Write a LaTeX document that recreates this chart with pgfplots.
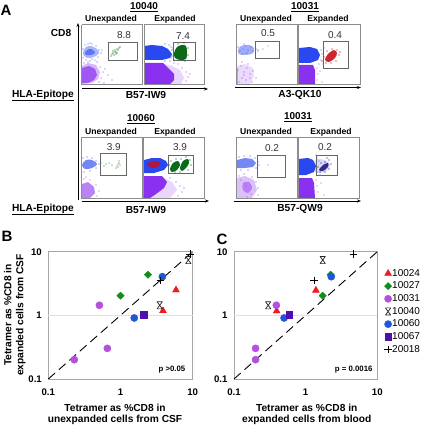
\documentclass[border=0pt]{standalone}
\usepackage{pgfplots}
\usepackage{fontspec}
\setmainfont{Liberation Sans}
\pgfplotsset{compat=1.18}
\usetikzlibrary{arrows.meta}
\definecolor{fblue}{HTML}{2A48F0}
\definecolor{fpurple}{HTML}{8A30F0}
\definecolor{fgreen}{HTML}{0A6A18}
\definecolor{fred}{HTML}{C8101C}
\definecolor{fnavy}{HTML}{302080}
\definecolor{mred}{HTML}{EE1C1C}
\definecolor{mgreen}{HTML}{0E8F1A}
\definecolor{mpurple}{HTML}{B44FE0}
\definecolor{mblue}{HTML}{1F57D6}
\definecolor{msq}{HTML}{4F0FB0}
\pgfdeclareplotmark{xcap}{%
 \pgfpathmoveto{\pgfqpoint{-0.75\pgfplotmarksize}{\pgfplotmarksize}}\pgfpathlineto{\pgfqpoint{0.75\pgfplotmarksize}{\pgfplotmarksize}}
 \pgfpathmoveto{\pgfqpoint{-0.75\pgfplotmarksize}{-\pgfplotmarksize}}\pgfpathlineto{\pgfqpoint{0.75\pgfplotmarksize}{-\pgfplotmarksize}}
 \pgfpathmoveto{\pgfqpoint{-0.75\pgfplotmarksize}{\pgfplotmarksize}}\pgfpathlineto{\pgfqpoint{0.75\pgfplotmarksize}{-\pgfplotmarksize}}
 \pgfpathmoveto{\pgfqpoint{0.75\pgfplotmarksize}{\pgfplotmarksize}}\pgfpathlineto{\pgfqpoint{-0.75\pgfplotmarksize}{-\pgfplotmarksize}}
 \pgfusepathqstroke}
\pgfplotsset{
 blob/.style n args={2}{draw=none,fill=#1,fill opacity=#2,forget plot,smooth cycle,no markers},
 block/.style n args={2}{draw=none,fill=#1,fill opacity=#2,forget plot,no markers},
 dots/.style={only marks,mark=*,mark size=0.45pt,color=#1,forget plot,mark options={draw=none,fill=#1,fill opacity=0.75}},
 frame/.style={draw=black!45,line width=0.9pt,forget plot,no markers},
 gate/.style={draw=black!60,line width=0.7pt,forget plot,no markers},
}
\newcommand{\hd}[3]{\node[font=\fontsize{10.2}{11}\selectfont\bfseries] at (axis cs:#1,#2) {#3};}
\newcommand{\ul}[3]{\node[font=\fontsize{10}{11}\selectfont\bfseries] at (axis cs:#1,#2) {\underline{#3}};}
\newcommand{\sm}[3]{\node[font=\fontsize{8.6}{10}\selectfont\bfseries] at (axis cs:#1,#2) {#3};}
\newcommand{\nm}[3]{\node[font=\fontsize{10}{11}\selectfont,text=black!80] at (axis cs:#1,#2) {#3};}
\begin{document}
\begin{tikzpicture}[x=1pt,y=1pt]
\useasboundingbox (0,0) rectangle (420pt,428pt);
% ---------- Panel A, in picture pixel coordinates
\begin{axis}[at={(0pt,0pt)},anchor=south west,scale only axis,width=420pt,height=428pt,
 xmin=0,xmax=420,ymin=0,ymax=428,y dir=reverse,hide axis,clip=false]
% 10040 unexpanded
\addplot[blob={fblue}{0.4}] coordinates {(83,52)(86,47)(91,46)(97,49)(99,53)(94,57)(88,58)(84,56)};
\addplot[blob={fblue}{0.6}] coordinates {(85,52)(89,49)(93,50)(95,53)(91,55)(86,55)};
\addplot[block={fpurple}{0.35}] coordinates {(82,66)(88,63)(96,65)(100,72)(98,79)(92,83)(82,84)};
\addplot[block={fpurple}{0.7}] coordinates {(82,68)(89,66)(95,69)(97,75)(94,80)(88,83)(82,83)};
\addplot[dots=fblue!70] coordinates {(83,49)(85,45)(88,44)(92,44)(96,46)(99,50)(101,53)(98,57)(92,59)(86,60)(83,58)(102,50)(95,60)(90,43)};
\addplot[dots=fpurple!80] coordinates {(84,63)(90,61)(97,62)(100,67)(103,72)(101,78)(99,82)(105,69)(108,75)(112,80)(104,83)(88,62)};
\addplot[dots=fgreen] coordinates {(111,56)(112,54)(113,53)(114,55)(115,52)(115,50)(116,52)(117,49)(118,50)(117,53)(119,48)(113,51)(120,47)(116,54)};
% 10040 expanded
\addplot[block={fblue}{1}] coordinates {(144,46)(152,45)(162,46)(168,49)(172,54)(170,58)(162,60)(144,60)};
\addplot[block={fpurple}{0.2}] coordinates {(160,63)(172,66)(180,70)(184,78)(181,84)(160,84)};
\addplot[block={fpurple}{1}] coordinates {(144,63)(163,63)(168,68)(174,74)(174,80)(170,84)(144,84)};
\addplot[blob={fgreen}{1}] coordinates {(174,53)(177,47)(182,45)(186,46)(187,52)(186,59)(180,60)(175,58)};
\addplot[dots=fgreen] coordinates {(172,50)(172,56)(174,60)(178,44)(184,43)(188,48)(188,55)(185,61)};
\addplot[dots=fblue!80] coordinates {(171,47)(173,48)(171,58)(170,61)(165,61)(169,45)(165,44)};
\addplot[dots=fpurple!80] coordinates {(182,68)(186,72)(188,77)(178,64)(174,63)(186,81)(190,74)};
% 10031 A3 unexpanded
\addplot[blob={fblue}{0.45}] coordinates {(238,50)(241,46)(249,45)(254,48)(253,53)(246,55)(239,54)};
\addplot[block={fpurple}{0.18}] coordinates {(237,66)(245,64)(253,68)(254,76)(250,84)(237,84)};
\addplot[dots=fblue!80] coordinates {(238,47)(240,51)(243,49)(245,46)(248,50)(251,47)(253,51)(256,49)(247,53)(242,54)(258,50)(244,44)};
\addplot[dots=fpurple!80] coordinates {(238,70)(241,66)(244,72)(247,68)(250,74)(253,71)(242,78)(246,80)(250,78)(239,82)(244,75)(256,78)(248,64)(252,82)(242,62)};
\addplot[dots=fred!60] coordinates {(258,51)(263,49)(268,46)};
\addplot[draw=fpurple!50,line width=0.8pt,forget plot] coordinates {(237,68)(237,84)(254,84)};
% 10031 A3 expanded
\addplot[block={fblue}{1}] coordinates {(299,48)(310,47)(317,49)(320,55)(318,60)(310,63)(299,63)};
\addplot[block={fpurple}{1}] coordinates {(299,65)(313,65)(315,70)(315,84)(299,84)};
\addplot[blob={fred}{0.9}] coordinates {(325,60)(328,54)(334,50)(337,53)(335,58)(329,62)};
\addplot[dots=fred] coordinates {(324,57)(327,51)(332,49)(337,50)(339,55)(336,61)(331,63)(326,63)(340,52)(322,61)};
\addplot[dots=fblue!70] coordinates {(321,50)(322,54)(324,48)(321,60)(319,64)(323,64)};
\addplot[dots=fpurple!70] coordinates {(317,68)(318,74)(317,80)(320,71)(322,82)};
% 10060 unexpanded
\addplot[blob={fblue}{0.65}] coordinates {(82,165)(86,160)(92,160)(97,164)(92,168)(85,169)};
\addplot[block={fpurple}{0.6}] coordinates {(82,184)(88,182)(94,187)(95,193)(90,198)(82,198)};
\addplot[dots=fblue!80] coordinates {(83,158)(87,157)(92,158)(96,161)(99,164)(96,168)(90,171)(84,172)(101,163)};
\addplot[dots=fpurple!70] coordinates {(84,179)(90,180)(96,185)(99,191)(97,196)(86,177)};
\addplot[dots=fgreen!70] coordinates {(117,166)(118,164)(119,163)(118,167)(120,165)(116,168)(119,161)(106,164)(109,163)(112,165)(104,166)};
% 10060 expanded
\addplot[block={fblue}{1}] coordinates {(144,160)(152,158)(160,158)(166,161)(168,165)(164,170)(154,173)(144,173)};
\addplot[blob={fred}{0.85}] coordinates {(147,164)(153,161)(160,162)(159,166)(152,168)};
\addplot[block={fpurple}{0.2}] coordinates {(160,176)(172,182)(177,190)(170,198)(150,198)};
\addplot[block={fpurple}{1}] coordinates {(144,176)(162,176)(167,182)(164,188)(156,194)(150,198)(144,198)};
\addplot[blob={fgreen}{1}] coordinates {(170,169)(173,163)(178,161)(180,165)(177,170)(172,172)};
\addplot[blob={fgreen}{1}] coordinates {(180,168)(183,161)(188,159)(189,163)(186,168)(182,171)};
\addplot[dots=fgreen] coordinates {(169,165)(171,161)(176,159)(181,159)(186,157)(190,160)(191,165)(188,170)(180,172)(175,172)};
\addplot[dots=fpurple!80] coordinates {(176,182)(180,186)(182,192)(178,196)(170,178)(184,188)};
% 10031 QW9 unexpanded
\addplot[block={fblue}{0.65}] coordinates {(237,160)(245,158)(252,159)(256,163)(253,167)(245,168)(237,168)};
\addplot[block={fpurple}{0.3}] coordinates {(237,178)(245,176)(254,180)(257,190)(252,198)(237,198)};
\addplot[blob={fpurple}{0.45}] coordinates {(243,183)(249,182)(252,188)(248,193)(243,190)};
\addplot[dots=fblue!80] coordinates {(239,157)(244,156)(250,156)(255,158)(258,162)(256,168)(248,170)(241,170)(259,165)};
\addplot[dots=fpurple!80] coordinates {(239,176)(244,174)(252,177)(256,182)(258,188)(258,195)(241,180)(246,186)(251,194)(247,197)};
\addplot[dots=fblue!60] coordinates {(268,165)};
% 10031 QW9 expanded
\addplot[blob={fblue}{0.2}] coordinates {(315,160)(325,160)(330,165)(325,172)(315,172)};
\addplot[block={fblue}{1}] coordinates {(298,159)(308,158)(313,160)(316,166)(314,172)(306,175)(298,175)};
\addplot[block={fpurple}{1}] coordinates {(298,178)(312,178)(314,183)(315,198)(298,198)};
\addplot[blob={fnavy}{0.95}] coordinates {(319,170)(323,165)(328,163)(328,167)(323,171)};
\addplot[dots=fnavy] coordinates {(318,167)(321,163)(325,162)(329,160)(331,164)(329,169)(325,172)(320,172)(327,158)};
\addplot[dots=fblue!70] coordinates {(317,158)(319,161)(317,172)(320,175)(316,155)};
\addplot[dots=fpurple!70] coordinates {(316,180)(317,186)(318,192)(321,183)(324,195)};
% frames and gates
\addplot[frame] coordinates {(81.7,24.7)(142.7,24.7)(142.7,84)(81.7,84)(81.7,24.7)};
\addplot[frame] coordinates {(144,24.7)(204,24.7)(204,84)(144,84)(144,24.7)};
\addplot[gate] coordinates {(108,42.7)(137,42.7)(137,60.7)(108,60.7)(108,42.7)};
\addplot[gate] coordinates {(173,42.7)(195,42.7)(195,60.7)(173,60.7)(173,42.7)};
\addplot[frame] coordinates {(236.7,24)(297,24)(297,84)(236.7,84)(236.7,24)};
\addplot[frame] coordinates {(298.3,24)(360,24)(360,84)(298.3,84)(298.3,24)};
\addplot[gate] coordinates {(255.7,41.3)(279.3,41.3)(279.3,58.7)(255.7,58.7)(255.7,41.3)};
\addplot[gate] coordinates {(323.3,41.7)(348.3,41.7)(348.3,68.7)(323.3,68.7)(323.3,41.7)};
\addplot[frame] coordinates {(81.7,137.3)(142.7,137.3)(142.7,198.7)(81.7,198.7)(81.7,137.3)};
\addplot[frame] coordinates {(143.5,137.3)(204,137.3)(204,198.7)(143.5,198.7)(143.5,137.3)};
\addplot[gate] coordinates {(100.7,153.3)(126.3,153.3)(126.3,175)(100.7,175)(100.7,153.3)};
\addplot[gate] coordinates {(168.3,155.7)(193.7,155.7)(193.7,173)(168.3,173)(168.3,155.7)};
\addplot[frame] coordinates {(236.7,137.3)(297,137.3)(297,198.3)(236.7,198.3)(236.7,137.3)};
\addplot[frame] coordinates {(298,137.3)(359,137.3)(359,198.3)(298,198.3)(298,137.3)};
\addplot[gate] coordinates {(257.3,155)(285.3,155)(285.3,177.7)(257.3,177.7)(257.3,155)};
\addplot[gate] coordinates {(316.3,155)(337.7,155)(337.7,175.3)(316.3,175.3)(316.3,155)};
% arrows
\addplot[black,line width=1pt,-{Stealth[length=4pt]},forget plot] coordinates {(78,200)(78,23)};
\addplot[black,line width=1pt,-{Stealth[length=4pt]},forget plot] coordinates {(82,89)(208,89)};
\addplot[black,line width=1pt,-{Stealth[length=4pt]},forget plot] coordinates {(82,201)(209,201)};
\addplot[black,line width=1pt,-{Stealth[length=4pt]},forget plot] coordinates {(235,87.5)(361,87.5)};
\addplot[black,line width=1pt,-{Stealth[length=4pt]},forget plot] coordinates {(234,201)(361,201)};
% texts
\node[font=\fontsize{15}{16}\selectfont\bfseries] at (axis cs:6,10.5) {A};
\node[font=\fontsize{15}{16}\selectfont\bfseries] at (axis cs:7,236) {B};
\node[font=\fontsize{15}{16}\selectfont\bfseries] at (axis cs:222,239) {C};
\ul{144}{7}{10040}\ul{305}{7}{10031}\ul{141}{119}{10060}\ul{298}{117}{10031}
\sm{111}{19}{Unexpanded}\sm{175}{19}{Expanded}\sm{266}{19}{Unexpanded}\sm{328}{19}{Expanded}
\sm{111}{132}{Unexpanded}\sm{175}{132}{Expanded}\sm{266}{132}{Unexpanded}\sm{331}{132}{Expanded}
\hd{61}{33}{CD8}
\hd{43}{95.5}{\underline{HLA-Epitope}}\hd{43}{209.5}{\underline{HLA-Epitope}}
\hd{146}{95}{B57-IW9}\hd{146}{210}{B57-IW9}\hd{300}{95}{A3-QK10}\hd{300}{209}{B57-QW9}
\nm{124}{35}{8.8}\nm{183}{36}{7.4}\nm{268}{33}{0.5}\nm{335}{35}{0.4}
\nm{113.7}{147.5}{3.9}\nm{180}{147.5}{3.9}\nm{272}{148}{0.2}\nm{325}{147.5}{0.2}
% axis titles of panels B and C
\hd{115}{407.7}{Tetramer as \%CD8 in}\hd{115}{420}{unexpanded cells from CSF}
\hd{306.7}{407.7}{Tetramer as \%CD8 in}\hd{306.7}{420}{expanded cells from blood}
\node[rotate=90,font=\fontsize{10.2}{11}\selectfont\bfseries] at (axis cs:7.7,315) {Tetramer as \%CD8 in};
\node[rotate=90,font=\fontsize{10.2}{11}\selectfont\bfseries] at (axis cs:20.7,315) {expanded cells from CSF};
\node[font=\fontsize{7.8}{9}\selectfont\bfseries] at (axis cs:172,369.7) {p >0.05};
\node[font=\fontsize{7.8}{9}\selectfont\bfseries] at (axis cs:353.7,369.7) {p = 0.0016};
\end{axis}
% ---------- Panel B
\begin{axis}[at={(48.3pt,49pt)},anchor=south west,scale only axis,width=144.4pt,height=127.3pt,
 xmode=log,ymode=log,xmin=0.1,xmax=10,ymin=0.1,ymax=10,clip=false,
 axis line style={draw=black!35,line width=0.9pt},
 xtick={0.1,1,10},xticklabels={0.1,1,10},ytick={0.1,1,10},yticklabels={0.1,1,10},
 minor tick length=0pt,major tick length=0pt,
 tick label style={font=\fontsize{9.6}{10}\selectfont\bfseries},
 xticklabel style={yshift=-6pt},yticklabel style={xshift=-3pt}]
\addplot[black!12,line width=0.6pt,forget plot] coordinates {(0.1,1)(10,1)};
\addplot[black,line width=0.9pt,dash pattern=on 9pt off 5pt,forget plot] coordinates {(0.1,0.1)(10,10)};
\addplot[only marks,mark=triangle*,mark size=4pt,color=mred,forget plot] coordinates {(5.87,2.5)(3.88,1.18)};
\addplot[only marks,mark=diamond*,mark size=3.6pt,mark options={xscale=1.35},color=mgreen,forget plot] coordinates {(2.40,4.35)(1.0,2.04)};
\addplot[only marks,mark=*,mark size=3.6pt,color=mpurple,forget plot] coordinates {(0.51,1.44)(0.657,0.303)(0.229,0.201)};
\addplot[only marks,mark=xcap,mark size=3.6pt,line width=0.7pt,color=black!85,forget plot] coordinates {(3.49,1.44)(8.7,7.4)};
\addplot[only marks,mark=*,mark size=3.6pt,color=mblue,forget plot] coordinates {(3.8,4.05)(1.55,0.91)};
\addplot[only marks,mark=square*,mark size=3.4pt,color=msq,forget plot] coordinates {(2.07,1.01)};
\addplot[only marks,mark=+,mark size=3.8pt,line width=0.7pt,color=black,forget plot] coordinates {(3.6,3.55)(9.2,9.2)};
\end{axis}
% ---------- Panel C
\begin{axis}[at={(234pt,49pt)},anchor=south west,scale only axis,width=143.3pt,height=127.3pt,
 xmode=log,ymode=log,xmin=0.1,xmax=10,ymin=0.1,ymax=10,clip=false,
 axis line style={draw=black!35,line width=0.9pt},
 xtick={0.1,1,10},xticklabels={0.1,1,10},ytick={0.1,1,10},yticklabels={0.1,1,10},
 minor tick length=0pt,major tick length=0pt,
 tick label style={font=\fontsize{9.6}{10}\selectfont\bfseries},
 xticklabel style={yshift=-6pt},yticklabel style={xshift=-3pt},
 legend style={at={(1.0,0.865)},anchor=north west,draw=none,fill=none,inner sep=0pt,outer sep=0pt,
  font=\fontsize{10}{11}\selectfont,row sep=3.6pt,legend cell align=left,
  nodes={inner sep=0.3pt},xshift=7pt},
 legend image code/.code={\draw[mark repeat=2,mark phase=2,xshift=-5pt,#1] plot coordinates {(0cm,0cm)(0.2cm,0cm)(0.4cm,0cm)};}]
\addplot[black!12,line width=0.6pt,forget plot] coordinates {(0.1,1)(10,1)};
\addplot[black,line width=0.9pt,dash pattern=on 9pt off 5pt,forget plot] coordinates {(0.1,0.1)(10,10)};
\addplot[only marks,mark=triangle*,mark size=4pt,color=mred] coordinates {(0.394,1.17)(1.39,2.47)};
\addlegendentry{10024}
\addplot[only marks,mark=diamond*,mark size=3.6pt,mark options={xscale=1.35},color=mgreen] coordinates {(2.23,4.35)(1.73,2.04)};
\addlegendentry{10027}
\addplot[only marks,mark=*,mark size=3.6pt,color=mpurple] coordinates {(0.39,1.44)(0.2,0.303)(0.2,0.201)};
\addlegendentry{10031}
\addplot[only marks,mark=xcap,mark size=3.6pt,line width=0.7pt,color=black!85] coordinates {(0.30,1.44)(1.73,7.4)};
\addlegendentry{10040}
\addplot[only marks,mark=*,mark size=3.6pt,color=mblue] coordinates {(2.28,4.05)(0.5,0.91)};
\addlegendentry{10060}
\addplot[only marks,mark=square*,mark size=3.4pt,color=msq] coordinates {(0.59,1.01)};
\addlegendentry{10067}
\addplot[only marks,mark=+,mark size=3.8pt,line width=0.7pt,color=black] coordinates {(1.31,3.55)(4.67,9.2)};
\addlegendentry{20018}
\end{axis}
\end{tikzpicture}
\end{document}
